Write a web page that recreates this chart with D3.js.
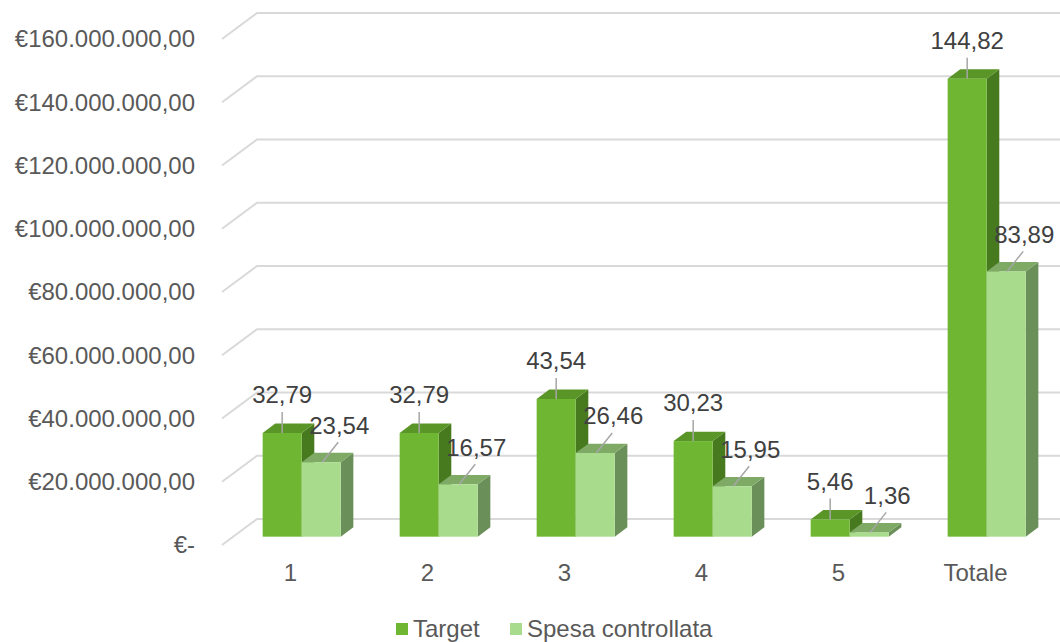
<!DOCTYPE html>
<html>
<head>
<meta charset="utf-8">
<script src="https://cdn.jsdelivr.net/npm/d3@7"></script>
<style>
  body { margin: 0; background: #fff; }
  text { font-family: "Liberation Sans", Arial, sans-serif; }
</style>
</head>
<body>
<svg id="chart"></svg>
<script>
// Chart data
const categories = ["1", "2", "3", "4", "5", "Totale"];
const seriesNames = ["Target", "Spesa controllata"];
const target = [32790000, 32790000, 43540000, 30230000, 5460000, 144820000];
const spesa = [23540000, 16570000, 26460000, 15950000, 1360000, 83890000];
const yTicks = [0, 20000000, 40000000, 60000000, 80000000, 100000000, 120000000, 140000000, 160000000];

const width = 1060, height = 642;

// colours per series: front, top, side
const colors = {
    "Target": { front: "#6fb733", top: "#5a9527", side: "#477a1e", legend: "#6fb733" },
    "Spesa controllata": { front: "#a8db8c", top: "#7eaa66", side: "#6b8f58", legend: "#a8db8c" }
};

// fake 3D: full depth of the floor/side wall
const depthX = 35, depthY = 26;
const barZ0 = 0.32, barZ1 = 0.68;

const svg = d3.select("#chart")
    .attr("width", width)
    .attr("height", height);

const y = d3.scaleLinear()
    .domain([0, 160000000])
    .range([545, 39]);

const x = d3.scaleBand()
    .domain(categories)
    .range([222, 1044])
    .paddingInner(0.43)
    .paddingOuter(0.215);

const xs = d3.scaleBand()
    .domain(seriesNames)
    .range([0, x.bandwidth()]);

// project a point on the front plane at depth z (0..1)
const P = (px, v, z) => [px + z * depthX, y(v) - z * depthY];

// Gridlines: side wall diagonal + back wall horizontal
const grid = svg.append("g");
yTicks.forEach(t => {
    const a = P(222, t, 0), b = P(222, t, 1);
    grid.append("path")
        .attr("d", `M${a[0]},${a[1]}L${b[0]},${b[1]}L${width},${b[1]}`)
        .attr("fill", "none")
        .attr("stroke", "#d9d9d9")
        .attr("stroke-width", 2);
});

// Y axis labels
const fmt = t => t === 0 ? "€-" :
    "€" + d3.format(",.2f")(t).replace(/,/g, "#").replace(".", ",").replace(/#/g, ".");
svg.append("g")
    .selectAll("text")
    .data(yTicks)
    .enter().append("text")
    .attr("x", 195)
    .attr("y", d => y(d))
    .attr("dy", "0.35em")
    .attr("text-anchor", "end")
    .attr("fill", "#595959")
    .style("font-size", "24px")
    .text(fmt);

// X axis labels
svg.append("g")
    .selectAll("text")
    .data(categories)
    .enter().append("text")
    .attr("x", d => x(d) + x.bandwidth() / 2)
    .attr("y", 573)
    .attr("dy", "0.35em")
    .attr("text-anchor", "middle")
    .attr("fill", "#595959")
    .style("font-size", "24px")
    .text(d => d);

// Bars
const rows = [];
categories.forEach((c, i) => {
    rows.push({ cat: c, s: "Target", v: target[i] });
    rows.push({ cat: c, s: "Spesa controllata", v: spesa[i] });
});

const bars = svg.append("g");
rows.forEach(d => {
    const x0 = x(d.cat) + xs(d.s), x1 = x0 + xs.bandwidth();
    const col = colors[d.s];
    const ft = P(x0, d.v, barZ0), fb = P(x0, 0, barZ0);
    const fx1 = P(x1, d.v, barZ0)[0];
    const bt = P(x0, d.v, barZ1), bb = P(x1, 0, barZ1);
    const bx1 = P(x1, d.v, barZ1)[0];
    const g = bars.append("g");
    // side
    g.append("path")
        .attr("d", `M${fx1},${ft[1]}L${bx1},${bt[1]}L${bx1},${bb[1]}L${fx1},${fb[1]}Z`)
        .attr("fill", col.side);
    // top
    g.append("path")
        .attr("d", `M${ft[0]},${ft[1]}L${fx1},${ft[1]}L${bx1},${bt[1]}L${bt[0]},${bt[1]}Z`)
        .attr("fill", col.top);
    // front
    g.append("rect")
        .attr("x", ft[0])
        .attr("y", ft[1])
        .attr("width", fx1 - ft[0])
        .attr("height", fb[1] - ft[1])
        .attr("fill", col.front);
    d.cx = (ft[0] + fx1) / 2;
    d.top = ft[1];
});

// Data labels with leader lines
const labels = svg.append("g");
rows.forEach(d => {
    const txt = d3.format(".2f")(d.v / 1e6).replace(".", ",");
    let lx, ly, line;
    if (d.s === "Target") {
        lx = d.cx; ly = d.top - 38;
        line = [[d.cx, d.top - 21], [d.cx, d.top]];
    } else {
        lx = d.cx + 18; ly = d.top - 37;
        line = [[d.cx + 17, d.top - 20], [d.cx + 1, d.top]];
    }
    labels.append("path")
        .attr("d", d3.line()(line))
        .attr("stroke", "#a6a6a6")
        .attr("stroke-width", 1.5);
    labels.append("text")
        .attr("x", lx)
        .attr("y", ly)
        .attr("dy", "0.35em")
        .attr("text-anchor", "middle")
        .attr("fill", "#404040")
        .style("font-size", "24px")
        .text(txt);
});

// Legend
const legend = svg.append("g");
const legendX = [396, 510];
seriesNames.forEach((s, i) => {
    legend.append("rect")
        .attr("x", legendX[i])
        .attr("y", 623)
        .attr("width", 12)
        .attr("height", 12)
        .attr("fill", colors[s].legend);
    legend.append("text")
        .attr("x", legendX[i] + 17)
        .attr("y", 629)
        .attr("dy", "0.35em")
        .attr("fill", "#595959")
        .style("font-size", "24px")
        .text(s);
});
</script>
</body>
</html>
